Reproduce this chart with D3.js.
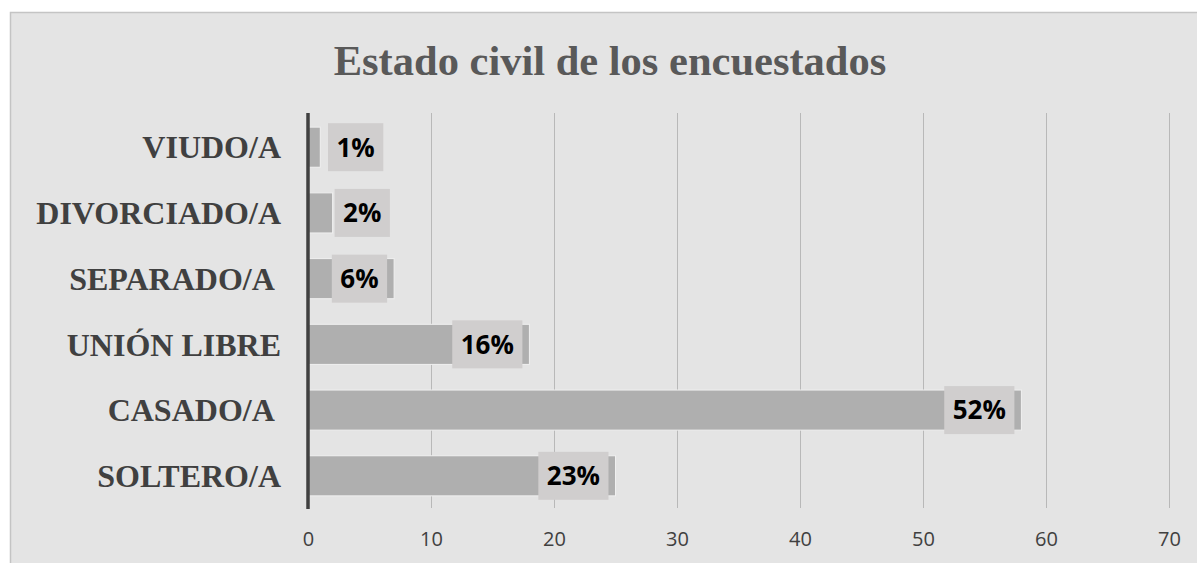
<!DOCTYPE html>
<html><head><meta charset="utf-8">
<script src="https://cdnjs.cloudflare.com/ajax/libs/d3/7.8.5/d3.min.js"></script>
<style>html,body{margin:0;padding:0;background:#fff;overflow:hidden}</style>
</head><body><svg id="c" width="1197" height="563"></svg>
<script>
const categories = ["VIUDO/A","DIVORCIADO/A","SEPARADO/A ","UNIÓN LIBRE","CASADO/A ","SOLTERO/A"];
const counts = [1, 2, 7, 18, 58, 25];
const percentLabels = ["1%","2%","6%","16%","52%","23%"];
const xTicks = [0,10,20,30,40,50,60,70];
const title = "Estado civil de los encuestados";

const svg = d3.select("#c");
svg.append("rect").attr("x",10.5).attr("y",12.5).attr("width",1200).attr("height",600)
  .attr("fill","#e4e4e4").attr("stroke","#c4c4c4").attr("stroke-width",1.5);

const x = d3.scaleLinear().domain([0,70]).range([308,1169]);
const y = d3.scaleBand().domain(categories).range([114,509]).paddingInner(0.39).paddingOuter(0.2);

svg.append("text").attr("x",610).attr("y",75).attr("text-anchor","middle")
  .attr("font-family","Liberation Serif").attr("font-weight","bold").attr("font-size",42.5)
  .attr("fill","#595959").text(title);

// gridlines
svg.append("g").selectAll("line").data(xTicks.filter(d=>d>0)).join("line")
  .attr("x1",d=>x(d)+0.5).attr("x2",d=>x(d)+0.5).attr("y1",113).attr("y2",508)
  .attr("stroke","#b8b8b8").attr("stroke-width",1);

// axis tick labels
const ax = svg.append("g").attr("transform","translate(0,508)")
  .call(d3.axisBottom(x).tickValues(xTicks).tickSize(0).tickPadding(24));
ax.select(".domain").remove();
ax.selectAll("text").attr("font-family","Open Sans, Liberation Sans").attr("font-size",20).attr("fill","#404040");

// bars
svg.append("g").selectAll("rect").data(counts).join("rect")
  .attr("x",x(0)).attr("y",(d,i)=>y(categories[i]))
  .attr("width",d=>x(d)-x(0)).attr("height",y.bandwidth())
  .attr("fill","#afafaf").attr("stroke","#f0f0f0").attr("stroke-width",1);

// axis line
svg.append("line").attr("x1",x(0)).attr("x2",x(0)).attr("y1",113).attr("y2",509)
  .attr("stroke","#404040").attr("stroke-width",3.5);

// category labels
svg.append("g").selectAll("text").data(categories).join("text")
  .attr("x",281).attr("y",d=>y(d)+y.bandwidth()/2).attr("dy","0.35em")
  .attr("text-anchor","end").style("white-space","pre")
  .attr("font-family","Liberation Serif").attr("font-weight","bold").attr("font-size",32)
  .attr("fill","#404040").text(d=>d);

// data labels with boxes
const lg = svg.append("g");
counts.forEach((v,i)=>{
  const cy = y(categories[i]) + y.bandwidth()/2;
  const t = lg.append("text").attr("font-family","Open Sans, Liberation Sans").attr("font-weight","bold")
    .attr("font-size",26).attr("fill","#000").attr("text-anchor","middle").attr("dy","0.36em")
    .text(percentLabels[i]);
  const tw = t.node().getComputedTextLength();
  const bw = tw + 17, bh = 48;
  const end = x(v);
  let left = end - 7 - bw;
  if (left < x(0) + 20) left = Math.max(x(0) + 20, end + 2);
  lg.insert("rect","text").attr("x",left).attr("y",cy-bh/2).attr("width",bw).attr("height",bh)
    .attr("fill","#d0cece");
  t.attr("x",left+bw/2).attr("y",cy);
});
</script></body></html>
